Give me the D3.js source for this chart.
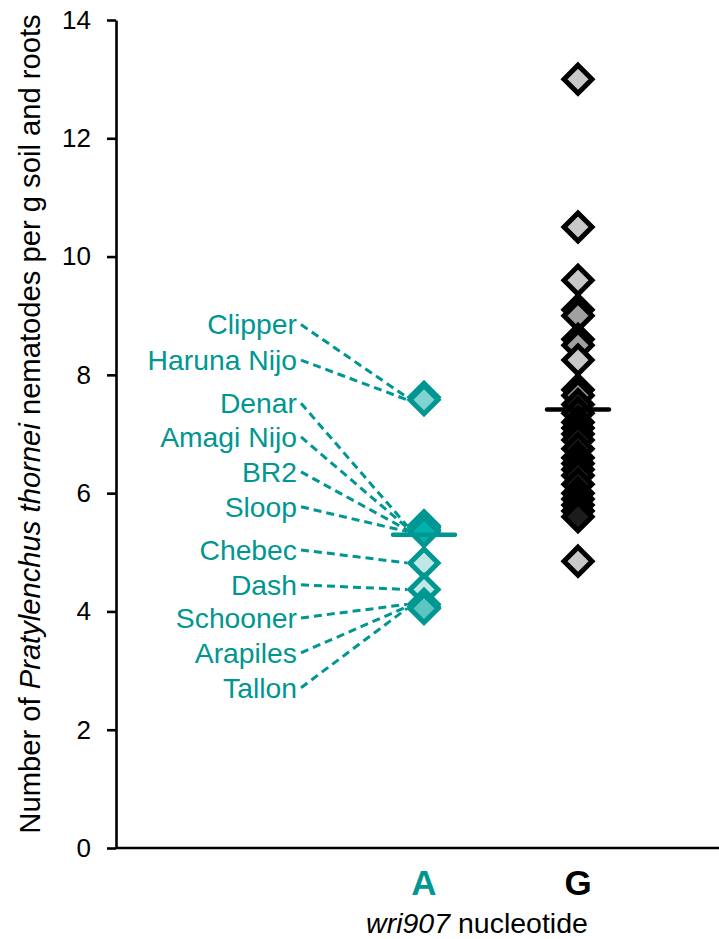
<!DOCTYPE html>
<html>
<head>
<meta charset="utf-8">
<script src="https://cdn.jsdelivr.net/npm/d3@7"></script>
<style>
  body { margin: 0; background: #fff; }
  text { font-family: 'Liberation Sans', Arial, sans-serif; }
</style>
</head>
<body>
<svg id="chart"></svg>
<script>
// allele A cultivars, label anchors (in y units) and values
const cultivarsA = ['Clipper', 'Haruna Nijo', 'Denar', 'Amagi Nijo', 'BR2', 'Sloop',
  'Chebec', 'Dash', 'Schooner', 'Arapiles', 'Tallon'];
const valuesA = [7.62, 7.58, 5.45, 5.42, 5.38, 5.35, 4.82, 4.37, 4.12, 4.08, 4.05];
const labelAtA = [8.85, 8.25, 7.52, 6.95, 6.36, 5.77, 5.04, 4.45, 3.89, 3.30, 2.71];
const shadeA = [1, 1, 2, 2, 2, 0, 3, 3, 1, 1, 4];

// allele G values
const valuesG = [13.0, 10.5, 9.6, 9.1, 9.0, 8.6, 8.5, 8.25, 7.75, 7.65, 7.5, 7.35, 7.2, 7.1,
  7.0, 6.9, 6.75, 6.6, 6.5, 6.4, 6.3, 6.15, 6.0, 5.9, 5.8, 5.7, 5.6, 4.85];
const shadeG = [0, 0, 0, 1, 1, 2, 1, 0, 2, 1, 3, 3, 3, 3, 3, 3, 3, 3, 3, 3, 3, 3, 3, 3, 2, 3, 3, 0];

const categories = ['A', 'G'];
const catPos = [2, 3];
const yTicks = [0, 2, 4, 6, 8, 10, 12, 14];

let width = 719;
let height = 939;
let teal = '#009691';

let svg = d3.select('#chart').attr('width', width).attr('height', height);

let y = d3.scaleLinear().domain([0, 14]).range([848, 20]);
let x = d3.scaleLinear().domain([0, 4]).range([116, 732]);

let fillA = d3.scaleOrdinal().domain([0, 1, 2, 3, 4]).range(['#00b3af', '#80d3cf', '#00a6a2', '#bfe7e5', '#5cc5c1']);
let fillG = d3.scaleOrdinal().domain([0, 1, 2, 3]).range(['#c8c8c8', '#a0a0a0', '#6e6e6e', '#1c1c1c']);

// axes
let yAxis = d3.axisLeft(y).tickValues(yTicks).tickSize(9).tickSizeOuter(0).tickPadding(16);
let gy = svg.append('g').attr('transform', 'translate(116,0)').call(yAxis);
gy.selectAll('path, line').attr('stroke', '#000').attr('stroke-width', 2.6);
gy.selectAll('text').attr('font-size', 26).attr('fill', '#000')
  .attr('font-family', "'Liberation Sans', Arial, sans-serif");

svg.append('line')
  .attr('x1', 116).attr('x2', width)
  .attr('y1', y(0)).attr('y2', y(0))
  .attr('stroke', '#000').attr('stroke-width', 2.6);

// y title
let title = svg.append('text')
  .attr('transform', 'rotate(-90)')
  .attr('x', -424).attr('y', 40)
  .attr('text-anchor', 'middle')
  .attr('font-size', 29.2)
  .attr('fill', '#000');
title.append('tspan').text('Number of ');
title.append('tspan').attr('font-style', 'italic').text('Pratylenchus thornei');
title.append('tspan').text(' nematodes per g soil and roots');

// category labels
svg.selectAll('.cat')
  .data(categories)
  .enter().append('text')
  .attr('class', 'cat')
  .attr('x', (d, i) => x(catPos[i]))
  .attr('y', 895)
  .attr('text-anchor', 'middle')
  .attr('font-size', 35)
  .attr('font-weight', 'bold')
  .attr('fill', (d, i) => i === 0 ? teal : '#000')
  .text(d => d);

let xt = svg.append('text')
  .attr('x', 477).attr('y', 933)
  .attr('text-anchor', 'middle')
  .attr('font-size', 28.5)
  .attr('fill', '#000');
xt.append('tspan').attr('font-style', 'italic').text('wri907');
xt.append('tspan').text(' nucleotide');

// diamond marker
let diamond = (r) => `M0,${-r}L${r},0L0,${r}L${-r},0Z`;
let r = 14;

// leader lines + cultivar labels
let labelEnd = 297;
svg.append('g').selectAll('line')
  .data(cultivarsA)
  .enter().append('line')
  .attr('x1', labelEnd + 4)
  .attr('y1', (d, i) => y(labelAtA[i]))
  .attr('x2', x(catPos[0]) - 17)
  .attr('y2', (d, i) => y(valuesA[i]))
  .attr('stroke', teal)
  .attr('stroke-width', 3)
  .attr('stroke-dasharray', '8,5');

svg.append('g').selectAll('text')
  .data(cultivarsA)
  .enter().append('text')
  .attr('x', labelEnd)
  .attr('y', (d, i) => y(labelAtA[i]))
  .attr('dy', '0.35em')
  .attr('text-anchor', 'end')
  .attr('font-size', 28.3)
  .attr('fill', teal)
  .text(d => d);

// markers A
svg.append('g').selectAll('path')
  .data(valuesA.map((v, i) => ({ v: v, s: shadeA[i] })))
  .enter().append('path')
  .attr('d', diamond(r))
  .attr('transform', d => `translate(${x(catPos[0])},${y(d.v)})`)
  .attr('fill', d => fillA(d.s))
  .attr('stroke', teal)
  .attr('stroke-width', 5);

// markers G
svg.append('g').selectAll('path')
  .data(valuesG.map((v, i) => ({ v: v, s: shadeG[i] })))
  .enter().append('path')
  .attr('d', diamond(r))
  .attr('transform', d => `translate(${x(catPos[1])},${y(d.v)})`)
  .attr('fill', d => fillG(d.s))
  .attr('stroke', '#000')
  .attr('stroke-width', 5);

// mean bars
let means = [d3.mean(valuesA), d3.mean(valuesG)];
svg.append('g').selectAll('line')
  .data(means)
  .enter().append('line')
  .attr('x1', (d, i) => x(catPos[i]) - 31)
  .attr('x2', (d, i) => x(catPos[i]) + 31)
  .attr('y1', d => y(d))
  .attr('y2', d => y(d))
  .attr('stroke', (d, i) => i === 0 ? teal : '#000')
  .attr('stroke-width', 4.5)
  .attr('stroke-linecap', 'round');
</script>
</body>
</html>
